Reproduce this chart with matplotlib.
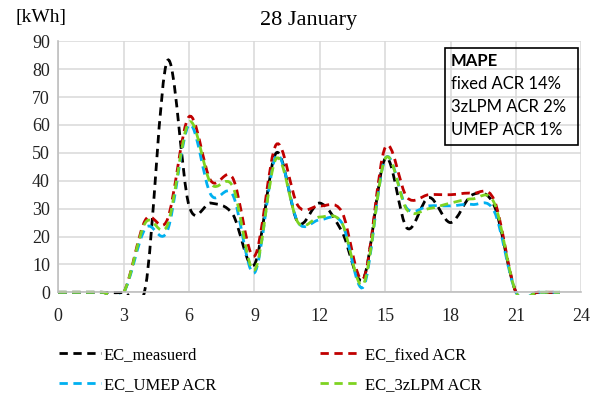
import numpy as np
import matplotlib
matplotlib.use("Agg")
import matplotlib.pyplot as plt
from matplotlib.path import Path
from matplotlib.patches import PathPatch, Rectangle
from matplotlib.lines import Line2D

# hourly energy consumption, 28 January [kWh]
hours = list(range(24))
ec_measured = [0, 0, 0, 0, 2, 83, 31, 32, 28, 10, 50, 25, 32, 22, 5, 48, 23, 34, 25, 35, 31, 0, 0, 0]
ec_fixed = [0, 0, 0, 0, 26, 26, 63, 40, 41, 13, 53, 31, 31, 29, 5, 52, 34, 35, 35, 35.5, 33, 0, 0, 0]
ec_umep = [0, 0, 0, 0, 23, 22, 60, 35, 35, 7, 49, 25, 26, 25, 2, 48, 30, 31, 31, 31.5, 29, 0, 0, 0]
ec_3zlpm = [0, 0, 0, 0, 25, 24, 61, 39, 38, 8, 48, 25, 27, 25, 3, 48, 29.5, 30, 32, 33.5, 32, 0, 0, 0]

series_names = ["EC_measuerd", "EC_fixed ACR", "EC_UMEP ACR", "EC_3zLPM ACR"]
series_values = [ec_measured, ec_fixed, ec_umep, ec_3zlpm]
colors = ["black", "#c00000", "#00b0f0", "#7ed321"]

mape_labels = ["fixed ACR 14%", "3zLPM ACR 2%", "UMEP ACR 1%"]
x_ticks = list(range(0, 25, 3))
y_ticks = list(range(0, 91, 10))


def smooth_path(x, y):
    """Excel-like smoothed line as cubic bezier segments"""
    pts = np.column_stack([x, y]).astype(float)
    ext = np.vstack([pts[0], pts, pts[-1]])
    verts = [pts[0]]
    codes = [Path.MOVETO]
    for i in range(len(pts) - 1):
        p0, p1, p2, p3 = ext[i], ext[i + 1], ext[i + 2], ext[i + 3]
        verts += [p1 + (p2 - p0) / 6, p2 - (p3 - p1) / 6, p2]
        codes += [Path.CURVE4] * 3
    return Path(verts, codes)


plt.rcParams["font.family"] = ["Liberation Serif", "DejaVu Serif"]
fig = plt.figure(figsize=(6.01, 3.93), dpi=100)
ax = fig.add_axes([0.097, 0.2562, 0.8705, 0.6387])

ax.set_xlim(0, 24)
ax.set_ylim(0, 90)

# clip a little below zero so lines lying on the axis stay fully visible
clip_box = Rectangle((0, -1.0), 24, 92, transform=ax.transData)
dash = (0, (3.0, 2.0))
for vals, c in zip(series_values, colors):
    p = PathPatch(smooth_path(hours, vals), fill=False, edgecolor=c,
                  lw=2.0, linestyle=dash)
    ax.add_patch(p)
    p.set_clip_path(clip_box)

ax.set_xticks(x_ticks)
ax.set_yticks(y_ticks)
ax.tick_params(length=0, labelsize=13, colors="#222222")
ax.tick_params(axis="x", pad=11)
ax.tick_params(axis="y", pad=6)
ax.grid(True, color="#d9d9d9", lw=1.1)
ax.set_axisbelow(True)
for s in ["top", "right"]:
    ax.spines[s].set_visible(False)
for s in ["left", "bottom"]:
    ax.spines[s].set_color("#bfbfbf")
    ax.spines[s].set_linewidth(1.2)

fig.text(0.513, 0.948, "28 January", ha="center", va="center", fontsize=16)
fig.text(0.025, 0.955, "[kWh]", ha="left", va="center", fontsize=14)

# MAPE box
fig.patches.append(Rectangle((445 / 601, 1 - 145 / 393), 133 / 601, 97 / 393,
                             transform=fig.transFigure, fill=False,
                             edgecolor="black", lw=1.2))
fig.text(451 / 601, 1 - 61 / 393, "MAPE", ha="left", va="center",
         fontsize=12, fontweight="bold", family="Lato")
for i, lab in enumerate(mape_labels):
    fig.text(451 / 601, 1 - (84 + 23 * i) / 393, lab, ha="left", va="center",
             fontsize=12, family="Lato")

handles = [Line2D([], [], color=c, lw=2.0, linestyle=dash) for c in colors]
order = [0, 2, 1, 3]
fig.legend([handles[i] for i in order], [series_names[i] for i in order],
           loc="upper left", bbox_to_anchor=(44 / 601, 1 - 332 / 393),
           ncol=2, frameon=False, fontsize=12, handlelength=2.5,
           handletextpad=0.2, columnspacing=6.2, labelspacing=0.85)

fig.savefig("out.png", dpi=100)
